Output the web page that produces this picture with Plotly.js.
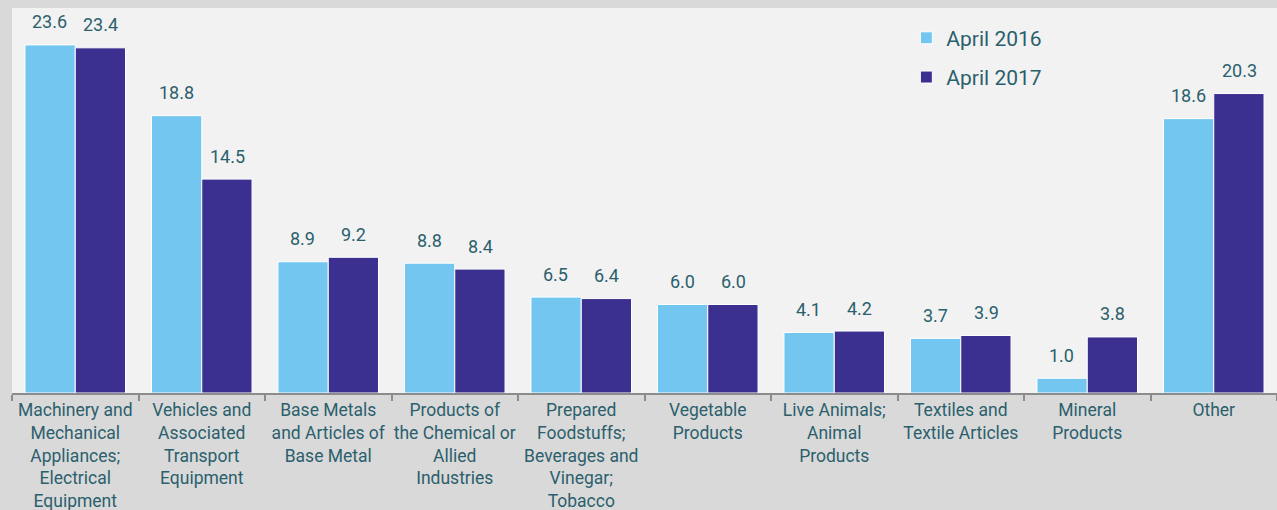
<!DOCTYPE html>
<html>
<head>
<meta charset="utf-8">
<script src="https://cdn.plot.ly/plotly-3.0.1.min.js"></script>
<style>html,body{margin:0;padding:0;background:#d9d9d9;}#chart{width:1277px;height:510px;}</style>
</head>
<body>
<div id="chart"></div>
<script>
var categories = [
  "Machinery and<br>Mechanical<br>Appliances;<br>Electrical<br>Equipment",
  "Vehicles and<br>Associated<br>Transport<br>Equipment",
  "Base Metals<br>and Articles of<br>Base Metal",
  "Products of<br>the Chemical or<br>Allied<br>Industries",
  "Prepared<br>Foodstuffs;<br>Beverages and<br>Vinegar;<br>Tobacco",
  "Vegetable<br>Products",
  "Live Animals;<br>Animal<br>Products",
  "Textiles and<br>Textile Articles",
  "Mineral<br>Products",
  "Other"
];
var april2016 = [23.6, 18.8, 8.9, 8.8, 6.5, 6.0, 4.1, 3.7, 1.0, 18.6];
var april2017 = [23.4, 14.5, 9.2, 8.4, 6.4, 6.0, 4.2, 3.9, 3.8, 20.3];
var seriesNames = ["April 2016", "April 2017"];

var textColor = "#2b5f6d";
var font = "Roboto, 'Open Sans', sans-serif";

var traces = [
  {type: "bar", name: seriesNames[0], x: categories, y: april2016,
   marker: {color: "#73c6ef", line: {color: "#ffffff", width: 1}},
   hoverinfo: "y", legend: "legend"},
  {type: "bar", name: seriesNames[1], x: categories, y: april2017,
   marker: {color: "#3b2f8f", line: {color: "#ffffff", width: 1}},
   hoverinfo: "y", legend: "legend2"}
];

var annotations = [];
[april2016, april2017].forEach(function (vals, s) {
  vals.forEach(function (v, i) {
    annotations.push({
      x: categories[i], y: v, xref: "x", yref: "y",
      text: v.toFixed(1), showarrow: false,
      xshift: s === 0 ? -25.5 : 25.5, yshift: 23,
      yanchor: "middle", xanchor: "center",
      font: {family: font, size: 18, color: textColor}
    });
  });
});

var layout = {
  width: 1277, height: 510,
  paper_bgcolor: "#d9d9d9",
  plot_bgcolor: "#f2f2f2",
  margin: {l: 12, r: 0, t: 8, b: 117, pad: 0},
  barmode: "group",
  bargap: 0.205,
  bargroupgap: 0.0,
  font: {family: font, color: textColor},
  showlegend: true,
  legend: {x: 0.707, y: 0.975, xanchor: "left", yanchor: "top",
           bgcolor: "rgba(0,0,0,0)", font: {family: font, size: 21, color: textColor}},
  legend2: {x: 0.707, y: 0.873, xanchor: "left", yanchor: "top",
            bgcolor: "rgba(0,0,0,0)", font: {family: font, size: 21, color: textColor}},
  xaxis: {
    type: "category",
    tickson: "boundaries",
    tickangle: 0,
    ticks: "outside", ticklen: 6, tickwidth: 2, tickcolor: "#8c8c8c",
    showline: true, linecolor: "#8c8c8c", linewidth: 2,
    showgrid: false,
    tickfont: {family: font, size: 17.5, color: textColor},
    fixedrange: true
  },
  yaxis: {
    range: [0, 26.1],
    visible: false,
    showgrid: false, zeroline: false,
    fixedrange: true
  },
  annotations: annotations
};

Plotly.newPlot("chart", traces, layout, {displayModeBar: false, staticPlot: true});
</script>
</body>
</html>
